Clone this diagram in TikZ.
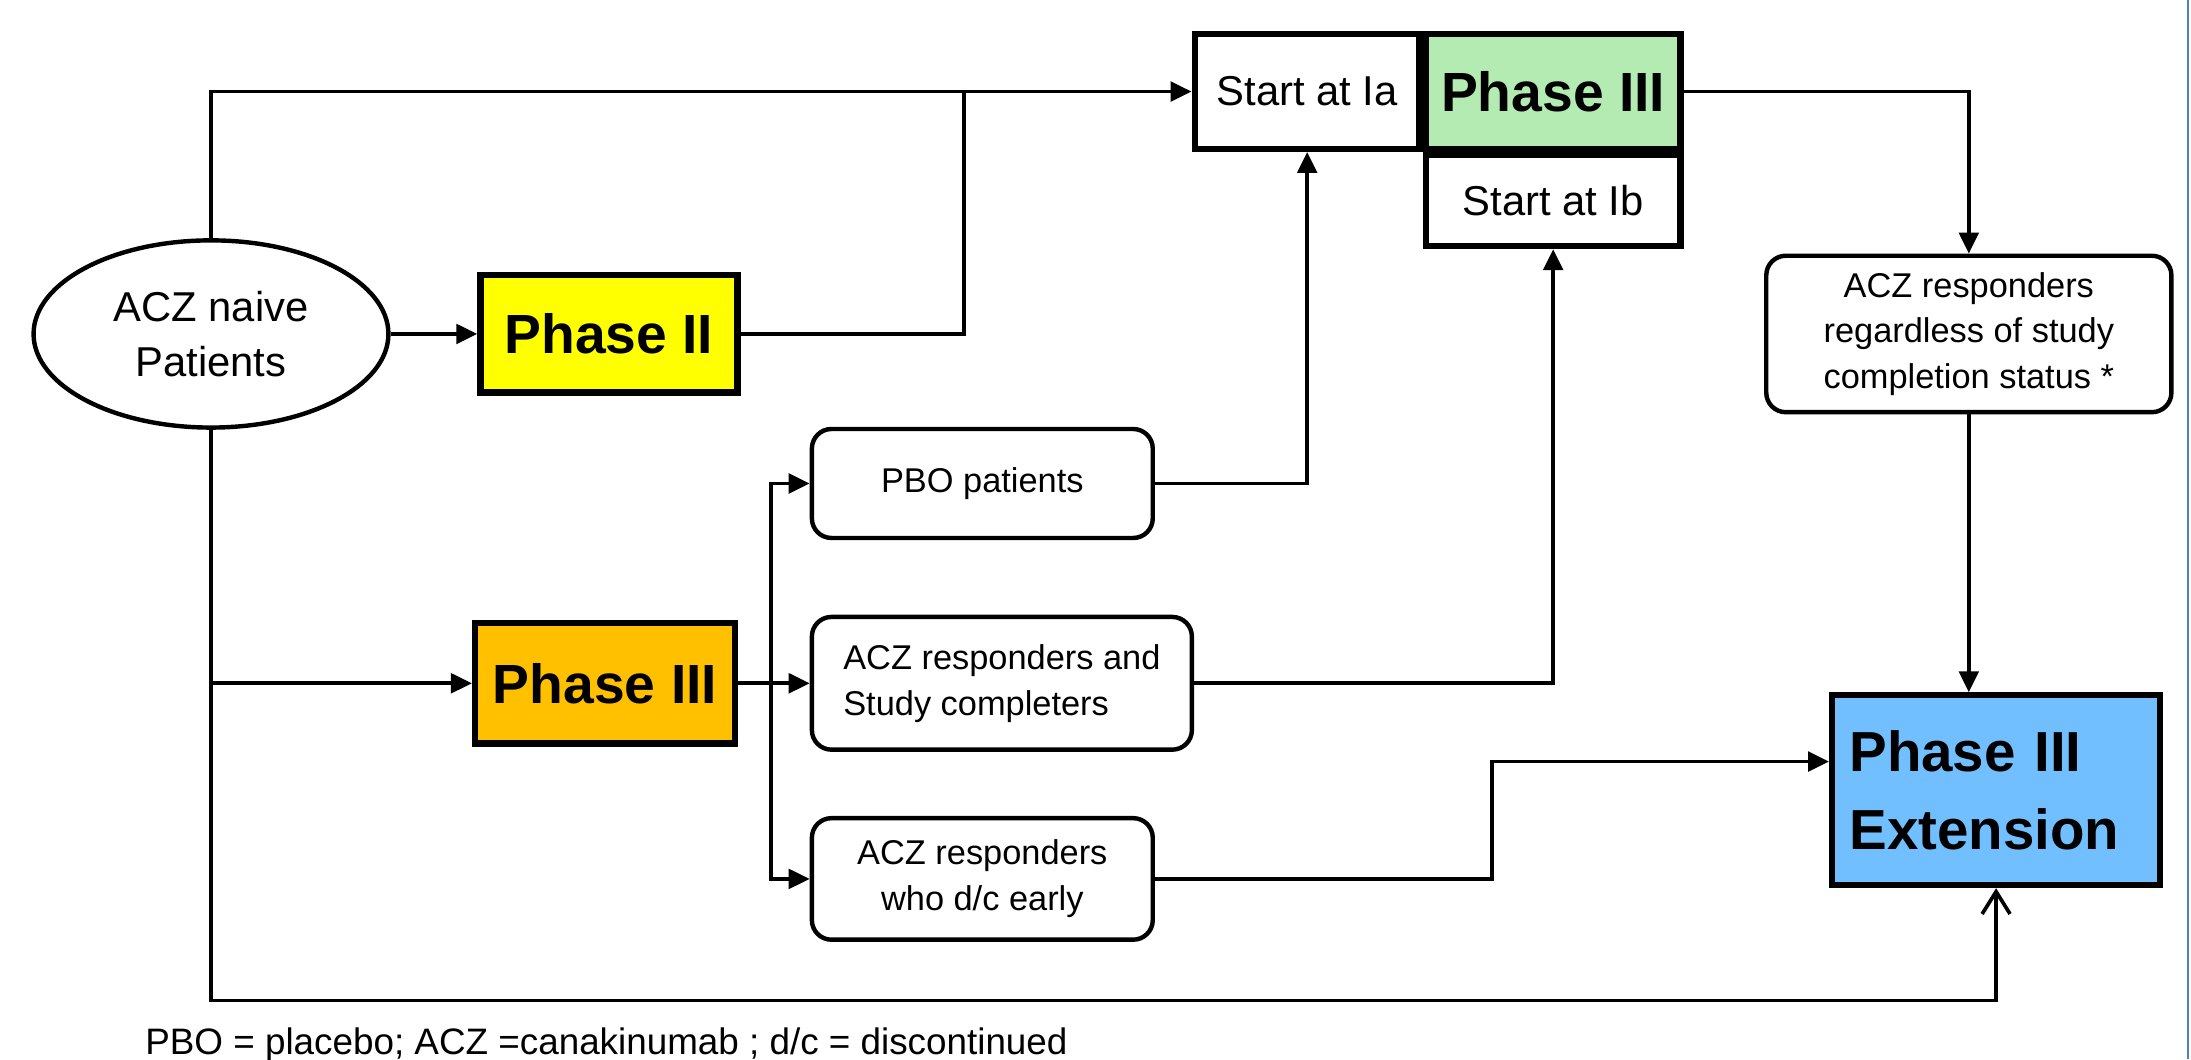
\documentclass[tikz,border=0pt]{standalone}
\usepackage{fontspec}
\setmainfont{Liberation Sans}
\usetikzlibrary{shapes.geometric, arrows.meta, positioning}

\definecolor{phaseyellow}{RGB}{255,255,0}
\definecolor{phaseorange}{RGB}{255,192,0}
\definecolor{phasegreen}{RGB}{179,235,179}
\definecolor{phaseblue}{RGB}{113,191,255}
\definecolor{frameblue}{RGB}{79,129,189}

\begin{document}
\begin{tikzpicture}[
        x=0.02cm, y=-0.02cm,
        every node/.style={inner sep=0pt, align=center, font=\fontsize{17}{22.5}\selectfont},
        phase/.style={
            rectangle, draw=black, line width=2.6pt,
            font=\fontsize{22.5}{30}\selectfont\bfseries
        },
        half/.style={rectangle, draw=black, line width=2.6pt},
        cohort/.style={
            rectangle, rounded corners=0.28cm, draw=black, line width=1.8pt,
            font=\fontsize{14}{18.7}\selectfont
        },
        arrow/.style={-{Triangle[length=0.3cm, width=0.28cm]}, line width=1.5pt},
        openarrow/.style={-{Straight Barb[length=0.32cm, width=0.4cm]}, line width=1.5pt},
        link/.style={line width=1.5pt}
    ]
        \useasboundingbox (0,0) rectangle (1568,758);
        \draw[frameblue, line width=0.8pt] (1566,0) -- (1566,758);

        % Entry and first phases
        \node[ellipse, draw=black, line width=1.8pt, minimum width=5.08cm, minimum height=2.68cm] (ell) at (151,239) {ACZ naive\\Patients};
        \node[phase, fill=phaseyellow, minimum width=3.68cm, minimum height=1.68cm, right=1.24cm of ell] (ph2) {Phase II};
        \node[phase, fill=phaseorange, minimum width=3.72cm, minimum height=1.72cm] (ph3) at (433,489) {Phase III};

        % Outcome groups
        \node[cohort, minimum width=4.88cm, minimum height=1.56cm] (pbo) at (703,346) {PBO patients};
        \node[cohort, align=left, minimum width=5.44cm, minimum height=1.90cm] (cmp) at (717,489) {ACZ responders and\\Study completers};
        \node[cohort, minimum width=4.88cm, minimum height=1.74cm] (dce) at (703,629) {ACZ responders\\who d/c early};

        % Phase III entry block
        \node[half, minimum width=3.22cm, minimum height=1.64cm] (ia) at (935.5,65.5) {Start at Ia};
        \node[phase, fill=phasegreen, minimum width=3.64cm, minimum height=1.64cm, right=0pt of ia] (ph3b) {Phase III};
        \node[half, minimum width=3.64cm, minimum height=1.30cm, below=0pt of ph3b] (ib) {Start at Ib};

        % Extension
        \node[cohort, font=\fontsize{14}{18.5}\selectfont, minimum width=5.80cm, minimum height=2.24cm] (rsp) at (1409,239) {ACZ responders\\regardless of study\\completion status *};
        \node[phase, fill=phaseblue, line width=2.4pt, font=\fontsize{23}{32}\selectfont\bfseries, text width=4.2cm, align=left, minimum width=4.70cm, minimum height=2.72cm] (ext) at (1428.5,565.5) {Phase III\\Extension};

        \node[anchor=base, font=\fontsize{15}{18}\selectfont] (note) at (434,755) {PBO = placebo; ACZ =canakinumab ; d/c = discontinued};

        % Connectors
        \draw[arrow] (ell.north) |- (ia.west);
        \draw[arrow] (ell.east) -- (ph2.west);
        \coordinate (mrg) at (690,65.5);
        \draw[link] (ph2.east) -| (mrg);
        \draw[arrow] (ell.south) |- (ph3.west);
        \coordinate (spl) at (552,489);
        \draw[link] (ph3.east) -- (spl);
        \draw[arrow] (spl) |- (pbo.west);
        \draw[arrow] (spl) |- (cmp.west);
        \draw[arrow] (spl) |- (dce.west);
        \draw[arrow] (pbo.east) -| (ia.south);
        \draw[arrow] (cmp.east) -| (ib.south);
        \draw[arrow] (ph3b.east) -| (rsp.north);
        \draw[arrow] (rsp.south) -- (rsp.south |- ext.north);
        \coordinate (ein) at ([yshift=0.41cm]ext.west);
        \draw[arrow] (dce.east) -| ([xshift=-4.82cm]ein) -- (ein);
        \coordinate (btm) at (151,716);
        \draw[openarrow] (ell.south) -- (btm) -| (ext.south);

    \end{tikzpicture}
\end{document}
